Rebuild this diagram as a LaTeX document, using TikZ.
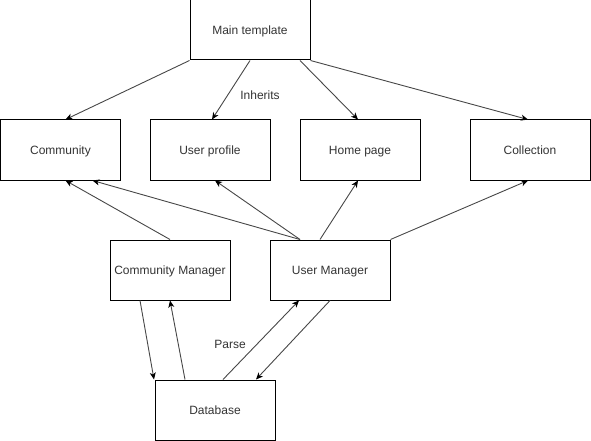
\documentclass[tikz,border=0pt]{standalone}
\usepackage{fontspec}
\setmainfont{Liberation Sans}
\usetikzlibrary{arrows.meta}
\begin{document}
\begin{tikzpicture}[x=1pt,y=-1pt,
  box/.style={draw=black,line width=1pt,minimum width=120pt,minimum height=60pt,inner sep=0pt,text height=9.8pt,text depth=1.6pt,font=\fontsize{12pt}{14pt}\selectfont,text=black!80},
  conn/.style={draw=black!72,line width=0.9pt,-{Stealth[length=7pt,width=6pt,inset=2pt,color=black]}},
  lbl/.style={font=\fontsize{12pt}{14pt}\selectfont,text=black!80,inner sep=0pt,text height=9.8pt,text depth=1.6pt}]
\useasboundingbox (0,0) rectangle (591,441);
\node[box] (main) at (250,30) {Main template};
\node[box] (comm) at (60.5,150) {Community};
\node[box] (up) at (210,150) {User profile};
\node[box] (hp) at (360,150) {Home page};
\node[box] (coll) at (530,150) {Collection};
\node[box] (cm) at (170,270) {Community Manager};
\node[box] (um) at (330,270) {User Manager};
\node[box] (db) at (215,410) {Database};
\draw[conn] (main.south west) -- ([xshift=5]comm.north);
\draw[conn] (main.south) -- ([xshift=2]up.north);
\draw[conn] ([xshift=50]main.south) -- ([xshift=-2]hp.north);
\draw[conn] (main.south east) -- ([xshift=-2]coll.north);
\draw[conn] (cm.north) -- ([xshift=5]comm.south);
\draw[conn] ([xshift=-30]um.north) -- ([xshift=32]comm.south);
\draw[conn] ([xshift=-30]um.north) -- ([xshift=5]up.south);
\draw[conn] ([xshift=-10]um.north) -- ([xshift=-2]hp.south);
\draw[conn] (um.north east) -- ([xshift=-2]coll.south);
\draw[conn] ([xshift=-30]cm.south) -- ([xshift=-61]db.north);
\draw[conn] ([xshift=-30]db.north) -- (cm.south);
\draw[conn] ([xshift=8]db.north) -- ([xshift=-31]um.south);
\draw[conn] (um.south) -- ([xshift=41]db.north);
\node[lbl] (inh) at (260,95) {Inherits};
\node[lbl] (parse) at (230,344) {Parse};
\end{tikzpicture}
\end{document}
